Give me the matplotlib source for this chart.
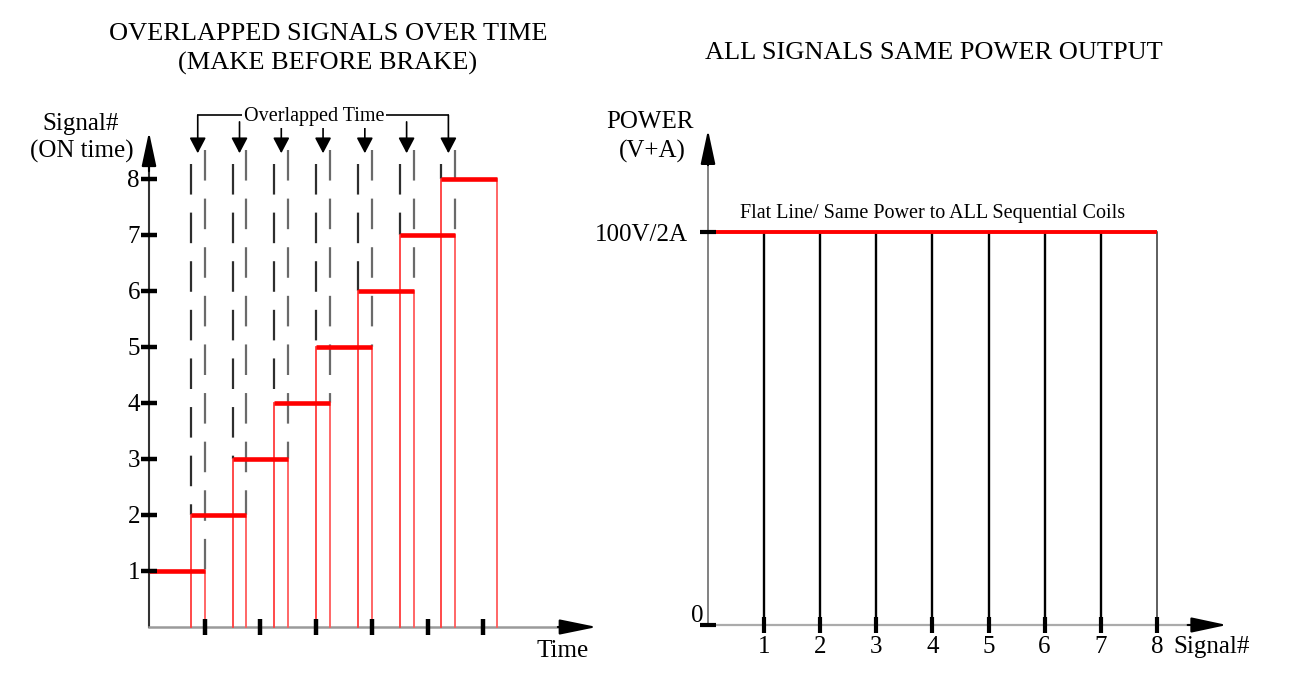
import numpy as np
import matplotlib
matplotlib.use("Agg")
import matplotlib.pyplot as plt

plt.rcParams["font.family"] = ["Liberation Serif", "DejaVu Serif"]
plt.rcParams["lines.scale_dashes"] = False

# ---------------- data ----------------
signals = [1, 2, 3, 4, 5, 6, 7, 8]
on_start = [0.00, 0.75, 1.50, 2.25, 3.00, 3.75, 4.50, 5.25]
on_end = [1.00, 1.75, 2.50, 3.25, 4.00, 4.75, 5.50, 6.25]
time_ticks = [1, 2, 3, 4, 5, 6]

power_signals = [1, 2, 3, 4, 5, 6, 7, 8]
power_level = 100
power_label = "100V/2A"

W, H, DPI = 1300, 696, 100
fig = plt.figure(figsize=(W / DPI, H / DPI), dpi=DPI)


def full_axes(ox, oy, sx, sy):
    """Axes covering the figure; data origin at pixel (ox, oy from top)."""
    ax = fig.add_axes([0, 0, 1, 1])
    ax.set_xlim(-ox / sx, (W - ox) / sx)
    ax.set_ylim(-(H - oy) / sy, oy / sy)
    ax.axis("off")
    ax.patch.set_alpha(0)
    return ax


def ftext(px, py, s, size, ha="center", va="baseline", **kw):
    fig.text(px / W, 1 - py / H, s, fontsize=size, ha=ha, va=va, **kw)


def arrow(ax, tip, tail, color="black", hl=2.2, hw=0.47, lw=1.5):
    ax.annotate("", xy=tip, xytext=tail,
                arrowprops=dict(arrowstyle=f"-|>,head_length={hl},head_width={hw}",
                                mutation_scale=10, lw=lw, color=color,
                                shrinkA=0, shrinkB=0))


# ---------------- left panel ----------------
axL = full_axes(149, 627, 55.7, 56.0)
y_top_axis = 8.84
x_tip = 8.04
dash_top = 8.52

# axes lines
axL.plot([0, 0], [0, y_top_axis - 0.3], color="#333333", lw=1.5, zorder=2)
arrow(axL, (0, y_top_axis), (0, y_top_axis - 0.7), hl=2.1, hw=0.45)
axL.plot([0, x_tip - 0.4], [0, 0], color="#9a9a9a", lw=1.8, zorder=2)
arrow(axL, (x_tip, 0), (x_tip - 0.7, 0), hl=2.3, hw=0.47)

# red verticals down to the time axis
for s, e, lev in zip(on_start, on_end, signals):
    if s > 0:
        axL.plot([s, s], [0, lev], color="#ff3c3c", lw=1.3, zorder=3)
    axL.plot([e, e], [0, lev], color="#ff5a5a", lw=1.3, zorder=3)

# dashed overlap markers
for k in range(len(signals) - 1):
    axL.plot([on_start[k + 1], on_start[k + 1]], [dash_top - 0.25, signals[k + 1]],
             color="#2e2e2e", lw=1.6, dashes=(22, 13), zorder=2)
    axL.plot([on_end[k], on_end[k]], [dash_top, signals[k]],
             color="#6a6a6a", lw=1.6, dashes=(22, 13), zorder=2)

# red ON bars
axL.hlines(signals, on_start, on_end, color="#ff0000", lw=3.3, zorder=4)

# ticks
axL.plot(np.zeros(len(signals)), signals, ls="none", marker="_", ms=11,
         mew=3.2, color="black", zorder=5)
axL.plot(time_ticks, np.zeros(len(time_ticks)), ls="none", marker="|", ms=11,
         mew=3.2, color="black", zorder=5)
for lev in signals:
    axL.annotate(str(lev), xy=(0, lev), xytext=(-9, -8), textcoords="offset pixels",
                 ha="right", va="baseline", fontsize=18)

# "Overlapped Time" bracket and arrows
centers = [(on_start[k + 1] + on_end[k]) / 2 for k in range(len(signals) - 1)]
bracket_y = 9.14
inner_y = 9.02
tip_y = 8.46
axL.plot([centers[0], centers[-1]], [bracket_y, bracket_y], color="black", lw=1.2, zorder=2)
for i, c in enumerate(centers):
    start = bracket_y if i in (0, len(centers) - 1) else inner_y
    arrow(axL, (c, tip_y), (c, start), hl=0.95, hw=0.5, lw=1.2)
ftext(314, 121.5, "Overlapped Time", 14.5,
      bbox=dict(boxstyle="square,pad=0.08", fc="white", ec="none"), zorder=6)

# left texts
ftext(328, 40, "OVERLAPPED SIGNALS OVER TIME", 19)
ftext(328, 70, "(MAKE BEFORE BRAKE)", 19)
ftext(81, 130, "Signal#", 18)
ftext(82, 158, "(ON time)", 18)
ftext(563, 657, "Time", 18)

# ---------------- right panel ----------------
axR = full_axes(708, 625, 56.1, 3.93)
yR_tip = 126.0
xR_tip = 9.25

axR.plot([0, 0], [0, yR_tip - 4], color="#777777", lw=1.3, zorder=2)
arrow(axR, (0, yR_tip), (0, yR_tip - 9), hl=2.1, hw=0.45)
axR.plot([0, xR_tip - 0.4], [0, 0], color="#ababab", lw=1.6, zorder=2)
arrow(axR, (xR_tip, 0), (xR_tip - 0.7, 0), hl=2.2, hw=0.47)

for i, x in enumerate(power_signals):
    last = i == len(power_signals) - 1
    axR.plot([x, x], [0, power_level], color="#333333" if last else "black",
             lw=1.1 if last else 1.7, zorder=3)
axR.hlines(power_level, 0, power_signals[-1], color="#ff0000", lw=2.8, zorder=4)

axR.plot(power_signals, np.zeros(len(power_signals)), ls="none", marker="|",
         ms=11, mew=3.0, color="black", zorder=5)
axR.plot([0.0, 0.0], [0, power_level], ls="none", marker="_", ms=12, mew=3.0,
         color="black", zorder=5)
for x in power_signals:
    axR.annotate(str(x), xy=(x, 0), xytext=(0, -28), textcoords="offset pixels",
                 ha="center", va="baseline", fontsize=18)
axR.annotate("0", xy=(0, 0), xytext=(-5, 3), textcoords="offset pixels",
             ha="right", va="baseline", fontsize=18)
axR.annotate(power_label, xy=(0, power_level), xytext=(-20, -9),
             textcoords="offset pixels", ha="right", va="baseline", fontsize=18)

ftext(934, 59, "ALL SIGNALS SAME POWER OUTPUT", 19)
ftext(933, 218, "Flat Line/ Same Power to ALL Sequential Coils", 14.5)
ftext(650, 128, "POWER", 18)
ftext(652, 158, "(V+A)", 18)
ftext(1212, 653, "Signal#", 18)

fig.savefig("out.png", dpi=DPI, facecolor="white")
